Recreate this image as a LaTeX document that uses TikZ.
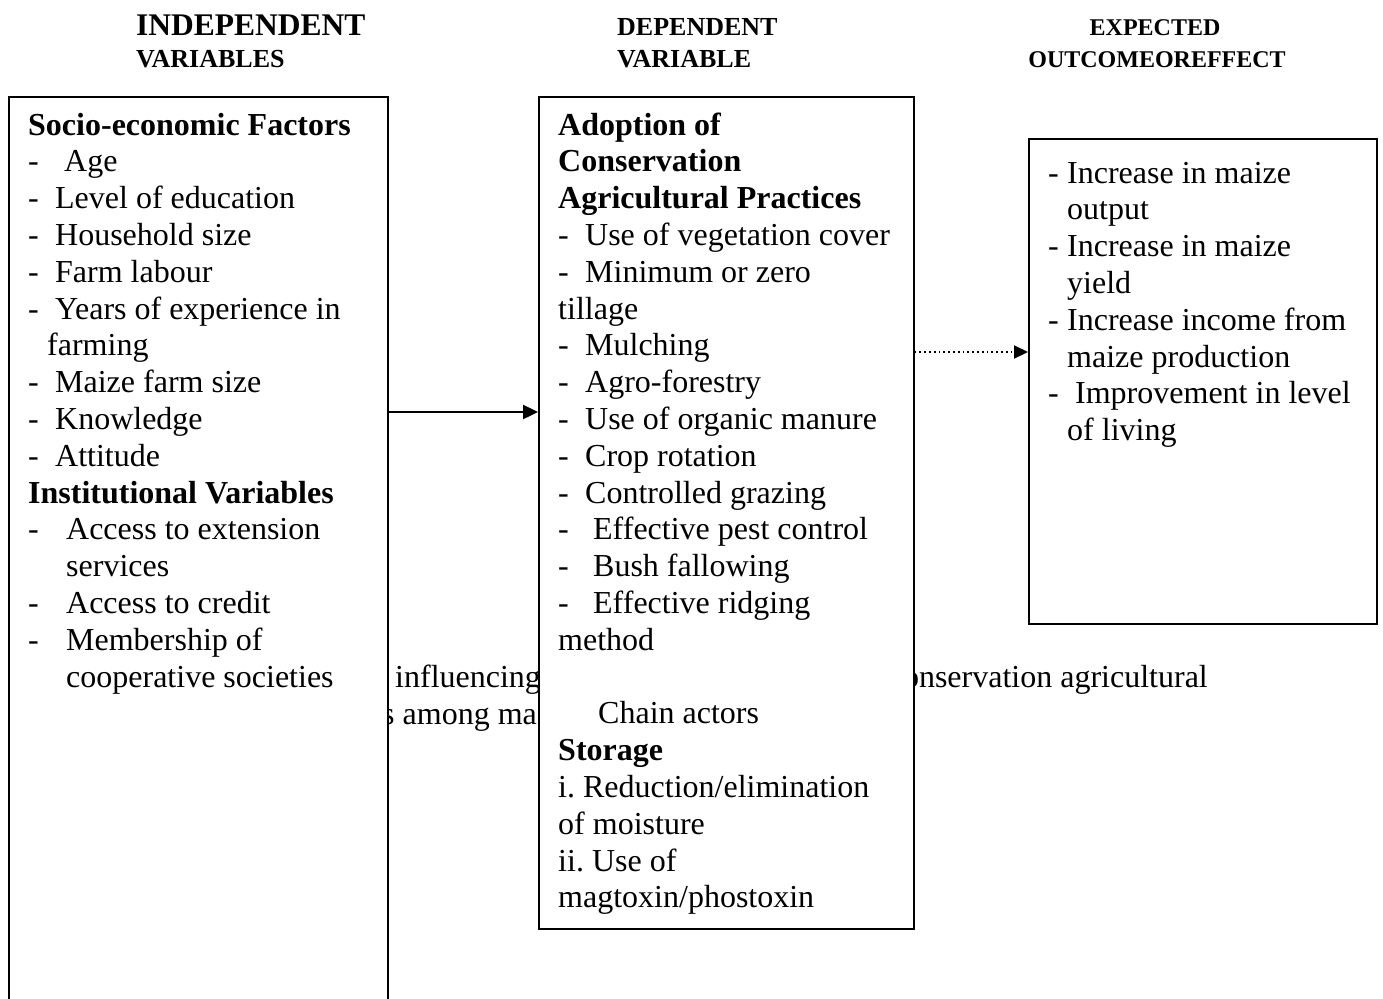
\documentclass[tikz,border=0pt]{standalone}
\usepackage{fontspec}
\setmainfont{Liberation Serif}
\usetikzlibrary{arrows.meta}
\newcommand\dsh[1]{\makebox[#1pt][l]{-}}
\frenchspacing
\begin{document}
\begin{tikzpicture}[x=1pt,y=-1pt,
  txt/.style={anchor=base west, inner sep=0pt, font=\fontsize{32}{36.8}\selectfont},
  hdr/.style={inner sep=0pt, font=\bfseries\fontsize{#1}{#1}\selectfont},
  box/.style={draw, fill=white, line width=1.6pt, anchor=north west, inner sep=0pt},
  arr/.style={-{Triangle[length=15pt,width=14pt]}, line width=2.4pt},
  darr/.style={-{Triangle[length=14pt,width=13pt]}, line width=2pt, dash pattern=on 1.8pt off 3pt}]
\useasboundingbox (0,0) rectangle (1383,998);
\clip (0,0) rectangle (1383,998);
\fill[white] (0,0) rectangle (1383,998);
% headers
\node[hdr=31.5, anchor=base west] (h1) at (136,36) {INDEPENDENT};
\node[hdr=26, anchor=base west] (h2) at (136,67) {VARIABLES};
\node[hdr=26, anchor=base west] (h3) at (617,36) {DEPENDENT};
\node[hdr=26, anchor=base west] (h4) at (617,67) {VARIABLE};
\node[hdr=24, anchor=base] (h5) at (1155,36) {EXPECTED};
\node[hdr=24, anchor=base] (h6) at (1157,67) {OUTCOMEOREFFECT};
% background caption fragments (partly hidden by boxes)
\node[txt] (c1) at (395,687) {influencing};
\node[txt, anchor=base east] (c2) at (1208,687) {onservation agricultural};
\node[txt] (c3) at (382,724) {s among ma};
% boxes
\node[box, minimum width=379pt, minimum height=930pt] (LB) at (8,96) {};
\node[box, minimum width=375pt, minimum height=832pt] (MB) at (538,96) {};
\node[box, minimum width=348pt, minimum height=485pt] (RB) at (1028,138) {};
% left box text
\foreach \t [count=\i from 0] in {
  \textbf{Socio-economic Factors},
  \dsh{36}Age,
  \dsh{27}Level of education,
  \dsh{27}Household size,
  \dsh{27}Farm labour,
  \dsh{27}Years of experience in,
  \hspace{19pt}farming,
  \dsh{27}Maize farm size,
  \dsh{27}Knowledge,
  \dsh{27}Attitude,
  \textbf{Institutional Variables},
  \dsh{38}Access to extension,
  \hspace{38pt}services,
  \dsh{38}Access to credit,
  \dsh{38}Membership of,
  \hspace{38pt}cooperative societies}
  \node[txt] (L\i) at (28,135+36.8*\i) {\t};
% middle box text
\foreach \t [count=\i from 0] in {
  \textbf{Adoption of},
  \textbf{Conservation},
  \textbf{Agricultural Practices},
  \dsh{27}Use of vegetation cover,
  \dsh{27}Minimum or zero,
  tillage,
  \dsh{27}Mulching,
  \dsh{27}Agro-forestry,
  \dsh{27}Use of organic manure,
  \dsh{27}Crop rotation,
  \dsh{27}Controlled grazing,
  \dsh{35}Effective pest control,
  \dsh{35}Bush fallowing,
  \dsh{35}Effective ridging,
  method,
  {},
  \hspace{40pt}Chain actors,
  \textbf{Storage},
  i. Reduction/elimination,
  of moisture,
  ii. Use of,
  magtoxin/phostoxin}
  \node[txt] (M\i) at (558,135+36.8*\i) {\t};
% right box text
\foreach \t [count=\i from 0] in {
  \dsh{19}Increase in maize,
  \hspace{19pt}output,
  \dsh{19}Increase in maize,
  \hspace{19pt}yield,
  \dsh{19}Increase income from,
  \hspace{19pt}maize production,
  \dsh{27}Improvement in level,
  \hspace{19pt}of living}
  \node[txt] (R\i) at (1048,183+36.8*\i) {\t};
% connectors
\coordinate (ya) at (0,412);
\coordinate (yb) at (0,352);
\draw[arr] (LB.east |- ya) -- (MB.west |- ya);
\draw[darr] (MB.east |- yb) -- (RB.west |- yb);
\end{tikzpicture}
\end{document}
